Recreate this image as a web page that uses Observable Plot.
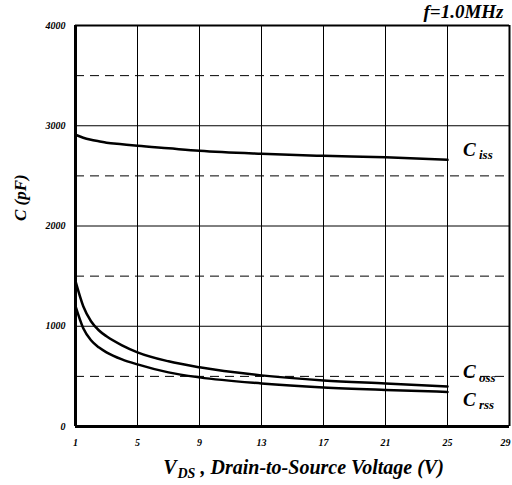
<!DOCTYPE html>
<html><head><meta charset="utf-8">
<script src="https://cdn.jsdelivr.net/npm/d3@7"></script>
<script src="https://cdn.jsdelivr.net/npm/@observablehq/plot@0.6"></script>
<style>body{margin:0;background:#fff}</style>
</head><body><div id="chart"></div>
<script>
const vds = [1, 1.5, 2, 2.5, 3, 4, 5, 7, 9, 13, 17, 21, 25];
const ciss = [2910, 2880, 2860, 2845, 2830, 2815, 2800, 2775, 2750, 2720, 2700, 2685, 2660];
const coss = [1450, 1200, 1050, 960, 900, 810, 740, 650, 590, 510, 460, 430, 400];
const crss = [1200, 980, 860, 790, 740, 670, 620, 540, 490, 430, 390, 365, 345];
const xTicks = [1, 5, 9, 13, 17, 21, 25, 29];
const yTicks = [0, 1000, 2000, 3000, 4000];
const solidY = [1000, 2000, 3000];
const dashedY = [500, 1500, 2500, 3500];
const seriesNames = ["iss", "oss", "rss"];
const labelY = [2755, 540, 270];

const rows = (vals, name) => vds.map((v, i) => ({x: v, y: vals[i], s: name}));
const data = [...rows(ciss, "iss"), ...rows(coss, "oss"), ...rows(crss, "rss")];
const labels = seriesNames.map((s, i) => ({s, y: labelY[i]}));

const font = "'Liberation Serif', 'Times New Roman', serif";
const chart = Plot.plot({
  width: 512, height: 485,
  marginLeft: 75, marginRight: 3, marginTop: 25, marginBottom: 59,
  style: {fontFamily: font, fontStyle: "italic", fontWeight: "bold", fontSize: "10px", background: "#fff", color: "#000"},
  x: {domain: [1, 29]},
  y: {domain: [0, 4000]},
  marks: [
    Plot.ruleX(xTicks, {stroke: "#000", strokeWidth: 1}),
    Plot.ruleY(solidY, {stroke: "#000", strokeWidth: 1}),
    Plot.ruleY(dashedY, {stroke: "#000", strokeWidth: 1, strokeDasharray: "9,6"}),
    Plot.ruleX([1], {stroke: "#000", strokeWidth: 3}),
    Plot.ruleY([0], {stroke: "#000", strokeWidth: 3}),
    Plot.ruleX([29], {stroke: "#000", strokeWidth: 2}),
    Plot.ruleY([4000], {stroke: "#000", strokeWidth: 2}),
    Plot.axisX({ticks: xTicks.slice(0, -1), tickSize: 0, tickPadding: 12, label: null, fontSize: 10}),
    Plot.axisX({ticks: xTicks.slice(-1), tickSize: 0, tickPadding: 12, label: null, fontSize: 10, dx: -4}),
    Plot.axisY({ticks: yTicks, tickSize: 0, tickPadding: 10, label: null, fontSize: 10, tickFormat: d => String(d)}),
    Plot.line(data, {x: "x", y: "y", z: "s", stroke: "#000", strokeWidth: 2.5, curve: "monotone-x"}),
    Plot.text(labels, {x: 26, y: "y", text: () => "C", textAnchor: "start", fontSize: 19}),
    Plot.text(labels, {x: 26, y: "y", text: "s", textAnchor: "start", fontSize: 13, dx: 16, dy: 5}),
    Plot.text(["f=1.0MHz"], {frameAnchor: "top-right", dx: -6, dy: -8, lineAnchor: "bottom", textAnchor: "end", fontSize: 19}),
    Plot.text(["V"], {frameAnchor: "bottom-left", dx: 101, dy: 47, textAnchor: "end", fontSize: 20}),
    Plot.text(["DS"], {frameAnchor: "bottom-left", dx: 102, dy: 51, textAnchor: "start", fontSize: 14}),
    Plot.text([" , Drain-to-Source Voltage (V)"], {frameAnchor: "bottom-left", dx: 120, dy: 47, textAnchor: "start", fontSize: 20}),
    Plot.text(["C (pF)"], {frameAnchor: "left", dx: -55, dy: -5, rotate: -90, fontSize: 17})
  ]
});
document.getElementById("chart").appendChild(chart);
</script>
</body></html>
